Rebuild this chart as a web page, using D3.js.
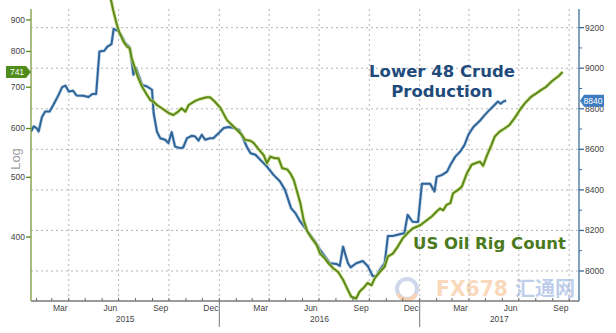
<!DOCTYPE html>
<html><head><meta charset="utf-8">
<script src="https://cdn.jsdelivr.net/npm/d3@7"></script>
<style>body{margin:0;background:#fff}svg{display:block}</style>
</head><body>
<svg id="chart" width="616" height="333"></svg>
<script>
// ---- data ----
const prodDates = ["2015-01-22","2015-01-27","2015-02-01","2015-02-05","2015-02-11","2015-02-17","2015-02-25","2015-03-04","2015-03-12","2015-03-20","2015-03-26","2015-04-01","2015-04-09","2015-04-15","2015-04-28","2015-05-07","2015-05-14","2015-05-21","2015-05-27","2015-06-05","2015-06-10","2015-06-18","2015-06-22","2015-07-01","2015-07-07","2015-07-13","2015-07-19","2015-07-22","2015-07-28","2015-08-02","2015-08-06","2015-08-13","2015-08-22","2015-08-31","2015-09-03","2015-09-09","2015-09-15","2015-09-24","2015-09-30","2015-10-06","2015-10-12","2015-10-21","2015-10-27","2015-11-03","2015-11-12","2015-11-18","2015-11-24","2015-11-30","2015-12-06","2015-12-15","2015-12-21","2015-12-31","2016-01-09","2016-01-18","2016-01-28","2016-02-06","2016-02-12","2016-02-20","2016-02-27","2016-03-07","2016-03-16","2016-03-28","2016-04-09","2016-04-21","2016-04-30","2016-05-06","2016-05-11","2016-05-19","2016-05-28","2016-06-06","2016-06-15","2016-06-24","2016-07-03","2016-07-12","2016-07-21","2016-08-02","2016-08-08","2016-08-14","2016-08-23","2016-08-28","2016-09-07","2016-09-19","2016-09-28","2016-10-07","2016-10-14","2016-10-20","2016-10-29","2016-11-04","2016-11-13","2016-11-25","2016-12-04","2016-12-10","2016-12-19","2016-12-29","2017-01-05","2017-01-20","2017-01-28","2017-02-01","2017-02-11","2017-02-20","2017-02-26","2017-03-07","2017-03-16","2017-03-24","2017-03-31","2017-04-09","2017-04-21","2017-04-30","2017-05-06","2017-05-15","2017-05-24","2017-05-29","2017-06-03","2017-06-08"];
const prodValues = [8688,8713,8705,8688,8759,8787,8787,8820,8861,8907,8914,8885,8889,8866,8864,8858,8873,8873,9083,9086,9105,9119,9194,9182,9157,9124,9108,9100,8968,9001,8968,8918,8910,8894,8779,8688,8655,8647,8631,8685,8614,8606,8609,8655,8667,8663,8643,8672,8647,8655,8655,8680,8705,8710,8705,8696,8663,8614,8581,8573,8548,8515,8474,8441,8400,8351,8310,8285,8243,8211,8178,8145,8104,8071,8038,8035,8025,8120,8038,8018,8038,8049,8025,7975,7975,8005,8038,8173,8173,8181,8186,8277,8243,8242,8430,8430,8392,8464,8474,8490,8523,8564,8589,8622,8672,8710,8741,8770,8787,8811,8836,8825,8836,8840];

const rigDates = ["2015-06-14","2015-06-21","2015-06-28","2015-07-02","2015-07-10","2015-07-16","2015-07-21","2015-07-25","2015-07-31","2015-08-06","2015-08-13","2015-08-22","2015-08-28","2015-09-03","2015-09-09","2015-09-18","2015-09-30","2015-10-09","2015-10-18","2015-10-24","2015-10-31","2015-11-06","2015-11-18","2015-11-27","2015-12-09","2015-12-15","2015-12-24","2016-01-03","2016-01-15","2016-01-24","2016-02-02","2016-02-11","2016-02-17","2016-02-27","2016-03-04","2016-03-13","2016-03-22","2016-03-28","2016-04-03","2016-04-12","2016-04-18","2016-04-25","2016-05-04","2016-05-10","2016-05-16","2016-05-22","2016-05-28","2016-06-03","2016-06-10","2016-06-18","2016-06-27","2016-07-03","2016-07-12","2016-07-18","2016-07-27","2016-08-05","2016-08-14","2016-08-23","2016-08-29","2016-09-07","2016-09-13","2016-09-22","2016-09-28","2016-10-05","2016-10-11","2016-10-20","2016-10-29","2016-11-04","2016-11-13","2016-11-22","2016-12-01","2016-12-10","2016-12-19","2017-01-02","2017-01-14","2017-01-23","2017-02-01","2017-02-07","2017-02-13","2017-02-19","2017-02-26","2017-03-03","2017-03-12","2017-03-19","2017-03-28","2017-04-06","2017-04-15","2017-04-21","2017-04-27","2017-05-03","2017-05-12","2017-05-18","2017-05-27","2017-06-05","2017-06-14","2017-06-23","2017-07-03","2017-07-12","2017-07-24","2017-08-02","2017-08-11","2017-08-20","2017-08-30","2017-09-04","2017-09-12","2017-09-19"];
const rigValues = [999,934,883,861,830,815,810,780,751,724,701,680,667,663,655,647,636,631,639,647,639,655,665,670,674,674,663,648,619,608,597,586,575,573,568,555,543,527,540,537,537,517,515,507,495,474,454,426,408,398,388,376,369,363,356,351,341,328,320,318,326,332,337,334,343,351,358,372,376,386,398,406,413,418,426,432,440,445,442,451,454,471,477,483,507,524,528,530,522,540,564,582,593,600,608,623,643,659,676,684,693,701,715,721,730,741];

const leftTicks = [400, 500, 600, 700, 800, 900];
const rightTicks = [8000, 8200, 8400, 8600, 8800, 9000, 9200];
const rightMinorTicks = [8100, 8300, 8500, 8700, 8900, 9100];
const quarterMonthLabels = ["Mar", "Jun", "Sep", "Dec"];
const yearLabels = ["2015", "2016", "2017"];
const prodLabel = "Lower 48 Crude";
const prodLabel2 = "Production";
const rigLabel = "US Oil Rig Count";
const lastRig = 741;
const lastProd = 8840;
const xDomain = ["2015-01-22", "2017-10-19"];

// ---- chart ----
const parse = d3.utcParse("%Y-%m-%d");
const svg = d3.select("#chart");
const L = 31, R = 579, T = 8, B = 301;
const x = d3.scaleUtc().domain(xDomain.map(parse)).range([L, R]);
const yL = d3.scaleLog().domain([315, 941]).range([B, T]);
const yR = d3.scaleLinear().domain([7852, 9297]).range([B, T]);
const font = "'Liberation Sans', Arial, sans-serif";
const bold = "'DejaVu Sans', Verdana, sans-serif";

// watermark (faint, behind everything)
const wm = svg.append("g").attr("opacity", 0.5);
wm.append("circle").attr("cx", 407).attr("cy", 289).attr("r", 10).attr("fill", "none").attr("stroke", "#9fb2d6").attr("stroke-width", 4);
wm.append("path").attr("d", "M398,294 A10,10 0 0 0 416,294").attr("fill", "none").attr("stroke", "#f2a66a").attr("stroke-width", 4);
wm.append("text").attr("x", 436).attr("y", 296).attr("font-family", bold).attr("font-weight", "bold").attr("font-size", 21).attr("textLength", 72).attr("lengthAdjust", "spacingAndGlyphs").attr("fill", "#f6b27c").text("FX678");
wm.append("text").attr("x", 515).attr("y", 296).attr("font-family", "'Noto Sans CJK SC', sans-serif").attr("font-weight", "bold").attr("font-size", 20).attr("fill", "#7e9ed6").text("汇通网");

// gridlines
const quarters = d3.utcMonth.range(x.domain()[0], x.domain()[1]).filter(d => d.getUTCMonth() % 3 === 0);
svg.append("g").selectAll("line").data(quarters).join("line")
  .attr("x1", d => x(d)).attr("x2", d => x(d)).attr("y1", T + 1).attr("y2", B)
  .attr("stroke", "#b4b4b4").attr("stroke-dasharray", "2,3").attr("stroke-width", 1);
svg.append("g").selectAll("line").data(rightTicks).join("line")
  .attr("x1", L).attr("x2", R).attr("y1", d => yR(d)).attr("y2", d => yR(d))
  .attr("stroke", "#b4b4b4").attr("stroke-dasharray", "2,3").attr("stroke-width", 1);

// clip
svg.append("clipPath").attr("id", "clip").append("rect").attr("x", L).attr("y", 0).attr("width", R - L).attr("height", B);

const prod = prodDates.map((d, i) => ({ d: parse(d), v: prodValues[i] }));
const rig = rigDates.map((d, i) => ({ d: parse(d), v: rigValues[i] }));
const lineP = d3.line().x(d => x(d.d)).y(d => yR(d.v));
const lineR = d3.line().x(d => x(d.d)).y(d => yL(d.v));
const gl = svg.append("g").attr("clip-path", "url(#clip)");
gl.append("path").datum(prod).attr("d", lineP).attr("fill", "none").attr("stroke", "#a9c4df").attr("stroke-width", 3.4).attr("stroke-linejoin", "round").attr("opacity", 0.7);
gl.append("path").datum(prod).attr("d", lineP).attr("fill", "none").attr("stroke", "#2f6598").attr("stroke-width", 2).attr("stroke-linejoin", "round");
gl.append("path").datum(rig).attr("d", lineR).attr("fill", "none").attr("stroke", "#c9dc7c").attr("stroke-width", 3.6).attr("stroke-linejoin", "round").attr("opacity", 0.8);
gl.append("path").datum(rig).attr("d", lineR).attr("fill", "none").attr("stroke", "#5c8a1f").attr("stroke-width", 2).attr("stroke-linejoin", "round");

// bottom axis
svg.append("line").attr("x1", L).attr("x2", R).attr("y1", B).attr("y2", B).attr("stroke", "#7a7a7a").attr("stroke-width", 1.5);
const months = d3.utcMonth.range(x.domain()[0], x.domain()[1]);
svg.append("g").selectAll("line").data(months).join("line")
  .attr("x1", d => x(d)).attr("x2", d => x(d)).attr("y1", B - 3).attr("y2", B)
  .attr("stroke", "#6a6a6a").attr("stroke-width", 1);
const fmtMon = d3.utcFormat("%b");
const labelMonths = months.filter(d => quarterMonthLabels.includes(fmtMon(d)));
svg.append("g").selectAll("text").data(labelMonths).join("text")
  .attr("x", d => (x(d) + x(d3.utcMonth.offset(d, 1))) / 2).attr("y", 311)
  .attr("text-anchor", "middle").attr("font-family", font).attr("font-size", 8.5).attr("fill", "#444")
  .text(d => fmtMon(d));
const years = yearLabels.map(y => {
  const s = Math.max(x(parse(y + "-01-01")), L), e = Math.min(x(parse((+y + 1) + "-01-01")), R);
  return { y, c: (s + e) / 2 };
});
svg.append("g").selectAll("text").data(years).join("text")
  .attr("x", d => d.c).attr("y", 322).attr("text-anchor", "middle")
  .attr("font-family", font).attr("font-size", 8.5).attr("fill", "#444").text(d => d.y);
const yearStarts = yearLabels.slice(1).map(y => parse(y + "-01-01"));
svg.append("g").selectAll("line").data(yearStarts).join("line")
  .attr("x1", d => x(d)).attr("x2", d => x(d)).attr("y1", B).attr("y2", 327)
  .attr("stroke", "#777").attr("stroke-width", 1);

// left axis
svg.append("line").attr("x1", L).attr("x2", L).attr("y1", T + 1).attr("y2", B).attr("stroke", "#7c9a3c").attr("stroke-width", 1.3);
const gLeft = svg.append("g");
gLeft.selectAll("line").data(leftTicks).join("line")
  .attr("x1", L - 5).attr("x2", L).attr("y1", d => yL(d)).attr("y2", d => yL(d)).attr("stroke", "#5c8a1f").attr("stroke-width", 1.3);
gLeft.selectAll("text").data(leftTicks).join("text")
  .attr("x", L - 6).attr("y", d => yL(d) + 3).attr("text-anchor", "end")
  .attr("font-family", font).attr("font-size", 8.5).attr("fill", "#444").text(d => d);
svg.append("text").attr("transform", "translate(20,159) rotate(-90)").attr("text-anchor", "middle")
  .attr("font-family", font).attr("font-size", 13).attr("fill", "#a0a0a0").text("Log");

// right axis
svg.append("line").attr("x1", R).attr("x2", R).attr("y1", T + 1).attr("y2", B).attr("stroke", "#3b6d9c").attr("stroke-width", 1.3);
const gRight = svg.append("g");
gRight.selectAll("line.maj").data(rightTicks).join("line").attr("class", "maj")
  .attr("x1", R).attr("x2", R + 5).attr("y1", d => yR(d)).attr("y2", d => yR(d)).attr("stroke", "#3b6d9c").attr("stroke-width", 1.3);
gRight.selectAll("line.min").data(rightMinorTicks).join("line").attr("class", "min")
  .attr("x1", R).attr("x2", R + 3).attr("y1", d => yR(d)).attr("y2", d => yR(d)).attr("stroke", "#3b6d9c").attr("stroke-width", 1);
gRight.selectAll("text").data(rightTicks).join("text")
  .attr("x", R + 6).attr("y", d => yR(d) + 3).attr("text-anchor", "start")
  .attr("font-family", font).attr("font-size", 8.5).attr("fill", "#444").text(d => d);

// last value tags
const yr = yL(lastRig);
svg.append("path").attr("d", `M6,${yr - 6} L26,${yr - 6} L31,${yr} L26,${yr + 6} L6,${yr + 6} Z`).attr("fill", "#4f8c1c");
svg.append("text").attr("x", 17).attr("y", yr + 3).attr("text-anchor", "middle").attr("font-family", font).attr("font-size", 8.5).attr("fill", "#fff").text(lastRig);
const yp = yR(lastProd);
svg.append("path").attr("d", `M${R + 1},${yp} L${R + 5},${yp - 6} L604,${yp - 6} L604,${yp + 6} L${R + 5},${yp + 6} Z`).attr("fill", "#3d7cc0");
svg.append("text").attr("x", 593).attr("y", yp + 3).attr("text-anchor", "middle").attr("font-family", font).attr("font-size", 8.5).attr("fill", "#fff").text(lastProd);

// annotations
svg.append("text").attr("x", 442).attr("y", 77).attr("text-anchor", "middle").attr("font-family", bold).attr("font-weight", "bold").attr("font-size", 16.5).attr("fill", "#1f4b7c").text(prodLabel);
svg.append("text").attr("x", 442).attr("y", 97).attr("text-anchor", "middle").attr("font-family", bold).attr("font-weight", "bold").attr("font-size", 16.5).attr("fill", "#1f4b7c").text(prodLabel2);
svg.append("text").attr("x", 413).attr("y", 249).attr("text-anchor", "start").attr("font-family", bold).attr("font-weight", "bold").attr("font-size", 16.5).attr("fill", "#4a7a1c").text(rigLabel);
</script>
</body></html>
